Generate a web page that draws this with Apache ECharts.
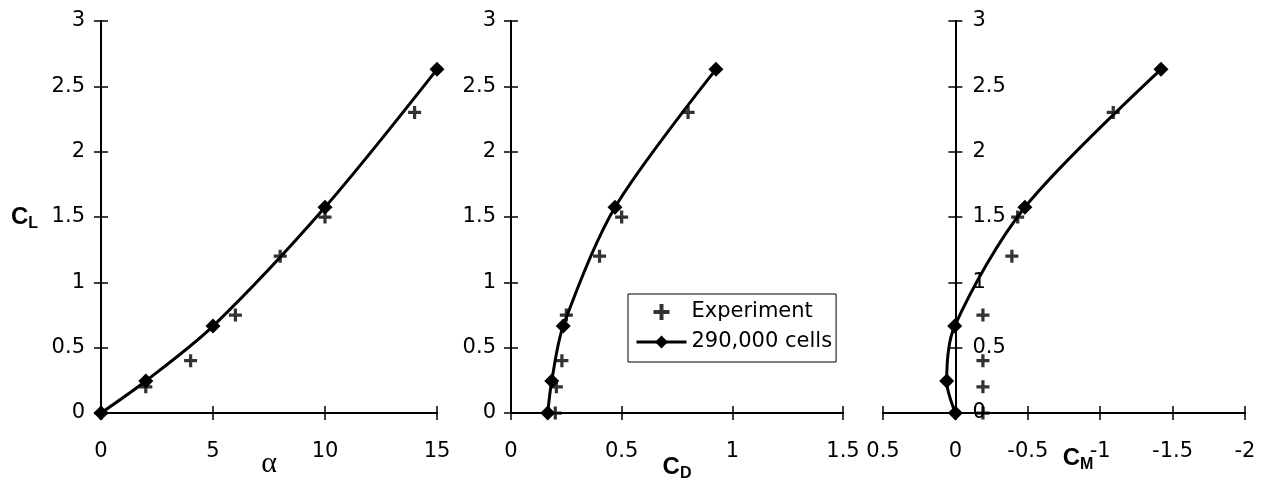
<!DOCTYPE html>
<html>
<head>
<meta charset="utf-8">
<script src="https://cdn.jsdelivr.net/npm/echarts@6/dist/echarts.min.js"></script>
<style>
  html, body { margin: 0; padding: 0; background: #fff; }
  #chart { width: 1268px; height: 484px; }
</style>
</head>
<body>
<div id="chart"></div>
<script>
// CFD, 290,000 cells
const alphaCfd = [0, 2, 5, 10, 15];
const clCfd = [0, 0.245, 0.665, 1.575, 2.63];
const cdCfd = [0.166, 0.184, 0.236, 0.47, 0.926];
const cmCfd = [0, 0.06, 0.005, -0.48, -1.42];

// experiment
const alphaExp = [0, 2, 4, 6, 8, 10, 14];
const clExp = [0, 0.2, 0.4, 0.75, 1.2, 1.5, 2.3];
const cdExp = [0.2, 0.205, 0.23, 0.25, 0.4, 0.5, 0.8];
const cmExp = [-0.19, -0.19, -0.19, -0.19, -0.39, -0.43, -1.09];

// axis ranges [min, max, step]
const clRange = [0, 3, 0.5];
const alphaRange = [0, 15, 5];
const cdRange = [0, 1.5, 0.5];
const cmRange = [-2, 0.5, 0.5];

const seriesNames = ['Experiment', '290,000 cells'];

const BLACK = '#000';
const PLUS = 'path://M4.5,0H7.5V4.5H12V7.5H7.5V12H4.5V7.5H0V4.5H4.5Z';
const tickFont = { fontFamily: 'DejaVu Sans', fontSize: 21, color: BLACK };

const nameRich = {
  c: { fontFamily: 'Liberation Sans', fontWeight: 'bold', fontSize: 24, color: BLACK, lineHeight: 30 },
  s: { fontFamily: 'Liberation Sans', fontWeight: 'bold', fontSize: 16, color: BLACK, lineHeight: 18, verticalAlign: 'bottom' },
  a: { fontFamily: 'Liberation Serif', fontSize: 30, color: BLACK, lineHeight: 30 }
};

const grids = [
  { left: 101, width: 336 },
  { left: 511, width: 332 },
  { left: 883, width: 362 }
];

const zip = (xs, ys) => xs.map((x, i) => [x, ys[i]]);

// two axes per side so the ticks cross the axis line
function axisPair(dim, grid, range, opts) {
  const base = {
    type: 'value', gridIndex: grid,
    min: range[0], max: range[1], interval: range[2],
    inverse: !!opts.inverse,
    position: dim === 'x' ? 'bottom' : 'left',
    offset: opts.offset || 0,
    splitLine: { show: false },
    axisLine: { onZero: false, lineStyle: { color: BLACK, width: 2 } }
  };
  const main = Object.assign({}, base, {
    axisTick: { length: 7, lineStyle: { color: BLACK, width: 1.5 } },
    axisLabel: Object.assign({ margin: opts.margin, inside: !!opts.labelInside }, tickFont)
  });
  if (opts.name) {
    Object.assign(main, {
      name: opts.name, nameLocation: 'middle', nameGap: opts.nameGap, nameRotate: 0,
      nameMoveOverlap: false,
      nameTextStyle: { rich: nameRich, padding: opts.namePadding || 0 }
    });
  }
  const twin = Object.assign({}, base, {
    axisTick: { inside: true, length: 7, lineStyle: { color: BLACK, width: 1.5 } },
    axisLabel: { show: false }
  });
  return [main, twin];
}

// C_M axis is reversed, so its zero sits inside the grid: move the CL axis there
const cmZeroOffset = -grids[2].width * (cmRange[1] - 0) / (cmRange[1] - cmRange[0]);

const xAxis = [].concat(
  axisPair('x', 0, alphaRange, { margin: 28, name: '{a|α}', nameGap: 36 }),
  axisPair('x', 1, cdRange, { margin: 28, name: '{c|C}{s|D}', nameGap: 39 }),
  axisPair('x', 2, cmRange, { margin: 28, inverse: true, name: '{c|C}{s|M}', nameGap: 30, namePadding: [0, 0, 0, 28] })
);
const yAxis = [].concat(
  axisPair('y', 0, clRange, { margin: 16, name: '{c|C}{s|L}', nameGap: 63 }),
  axisPair('y', 1, clRange, { margin: 15 }),
  axisPair('y', 2, clRange, { margin: 17, labelInside: true, offset: cmZeroOffset })
);

const panelX = [[alphaCfd, alphaExp], [cdCfd, cdExp], [cmCfd, cmExp]];
const series = [];
panelX.forEach(([xc, xe], i) => {
  series.push({
    name: seriesNames[1], type: 'line', xAxisIndex: i * 2, yAxisIndex: i * 2,
    data: zip(xc, clCfd), smooth: 0.3,
    symbol: 'diamond', symbolSize: 15,
    lineStyle: { color: BLACK, width: 3 }, itemStyle: { color: BLACK }
  });
  series.push({
    name: seriesNames[0], type: 'scatter', xAxisIndex: i * 2, yAxisIndex: i * 2,
    data: zip(xe, clExp), symbol: PLUS, symbolSize: 13,
    itemStyle: { color: BLACK }, z: 3
  });
});

const chart = echarts.init(document.getElementById('chart'));
chart.setOption({
  animation: false,
  backgroundColor: '#fff',
  grid: grids.map(g => Object.assign({ top: 21, height: 392, outerBoundsMode: 'none', containLabel: false }, g)),
  legend: {
    data: seriesNames,
    orient: 'vertical', left: 628, top: 294,
    padding: [6, 4, 8, 7], itemGap: 6, itemWidth: 50, itemHeight: 16,
    borderColor: BLACK, borderWidth: 1, borderRadius: 0,
    lineStyle: { width: 3 },
    textStyle: { fontFamily: 'DejaVu Sans', fontSize: 21, color: BLACK, lineHeight: 24 }
  },
  xAxis, yAxis, series
});
</script>
</body>
</html>
